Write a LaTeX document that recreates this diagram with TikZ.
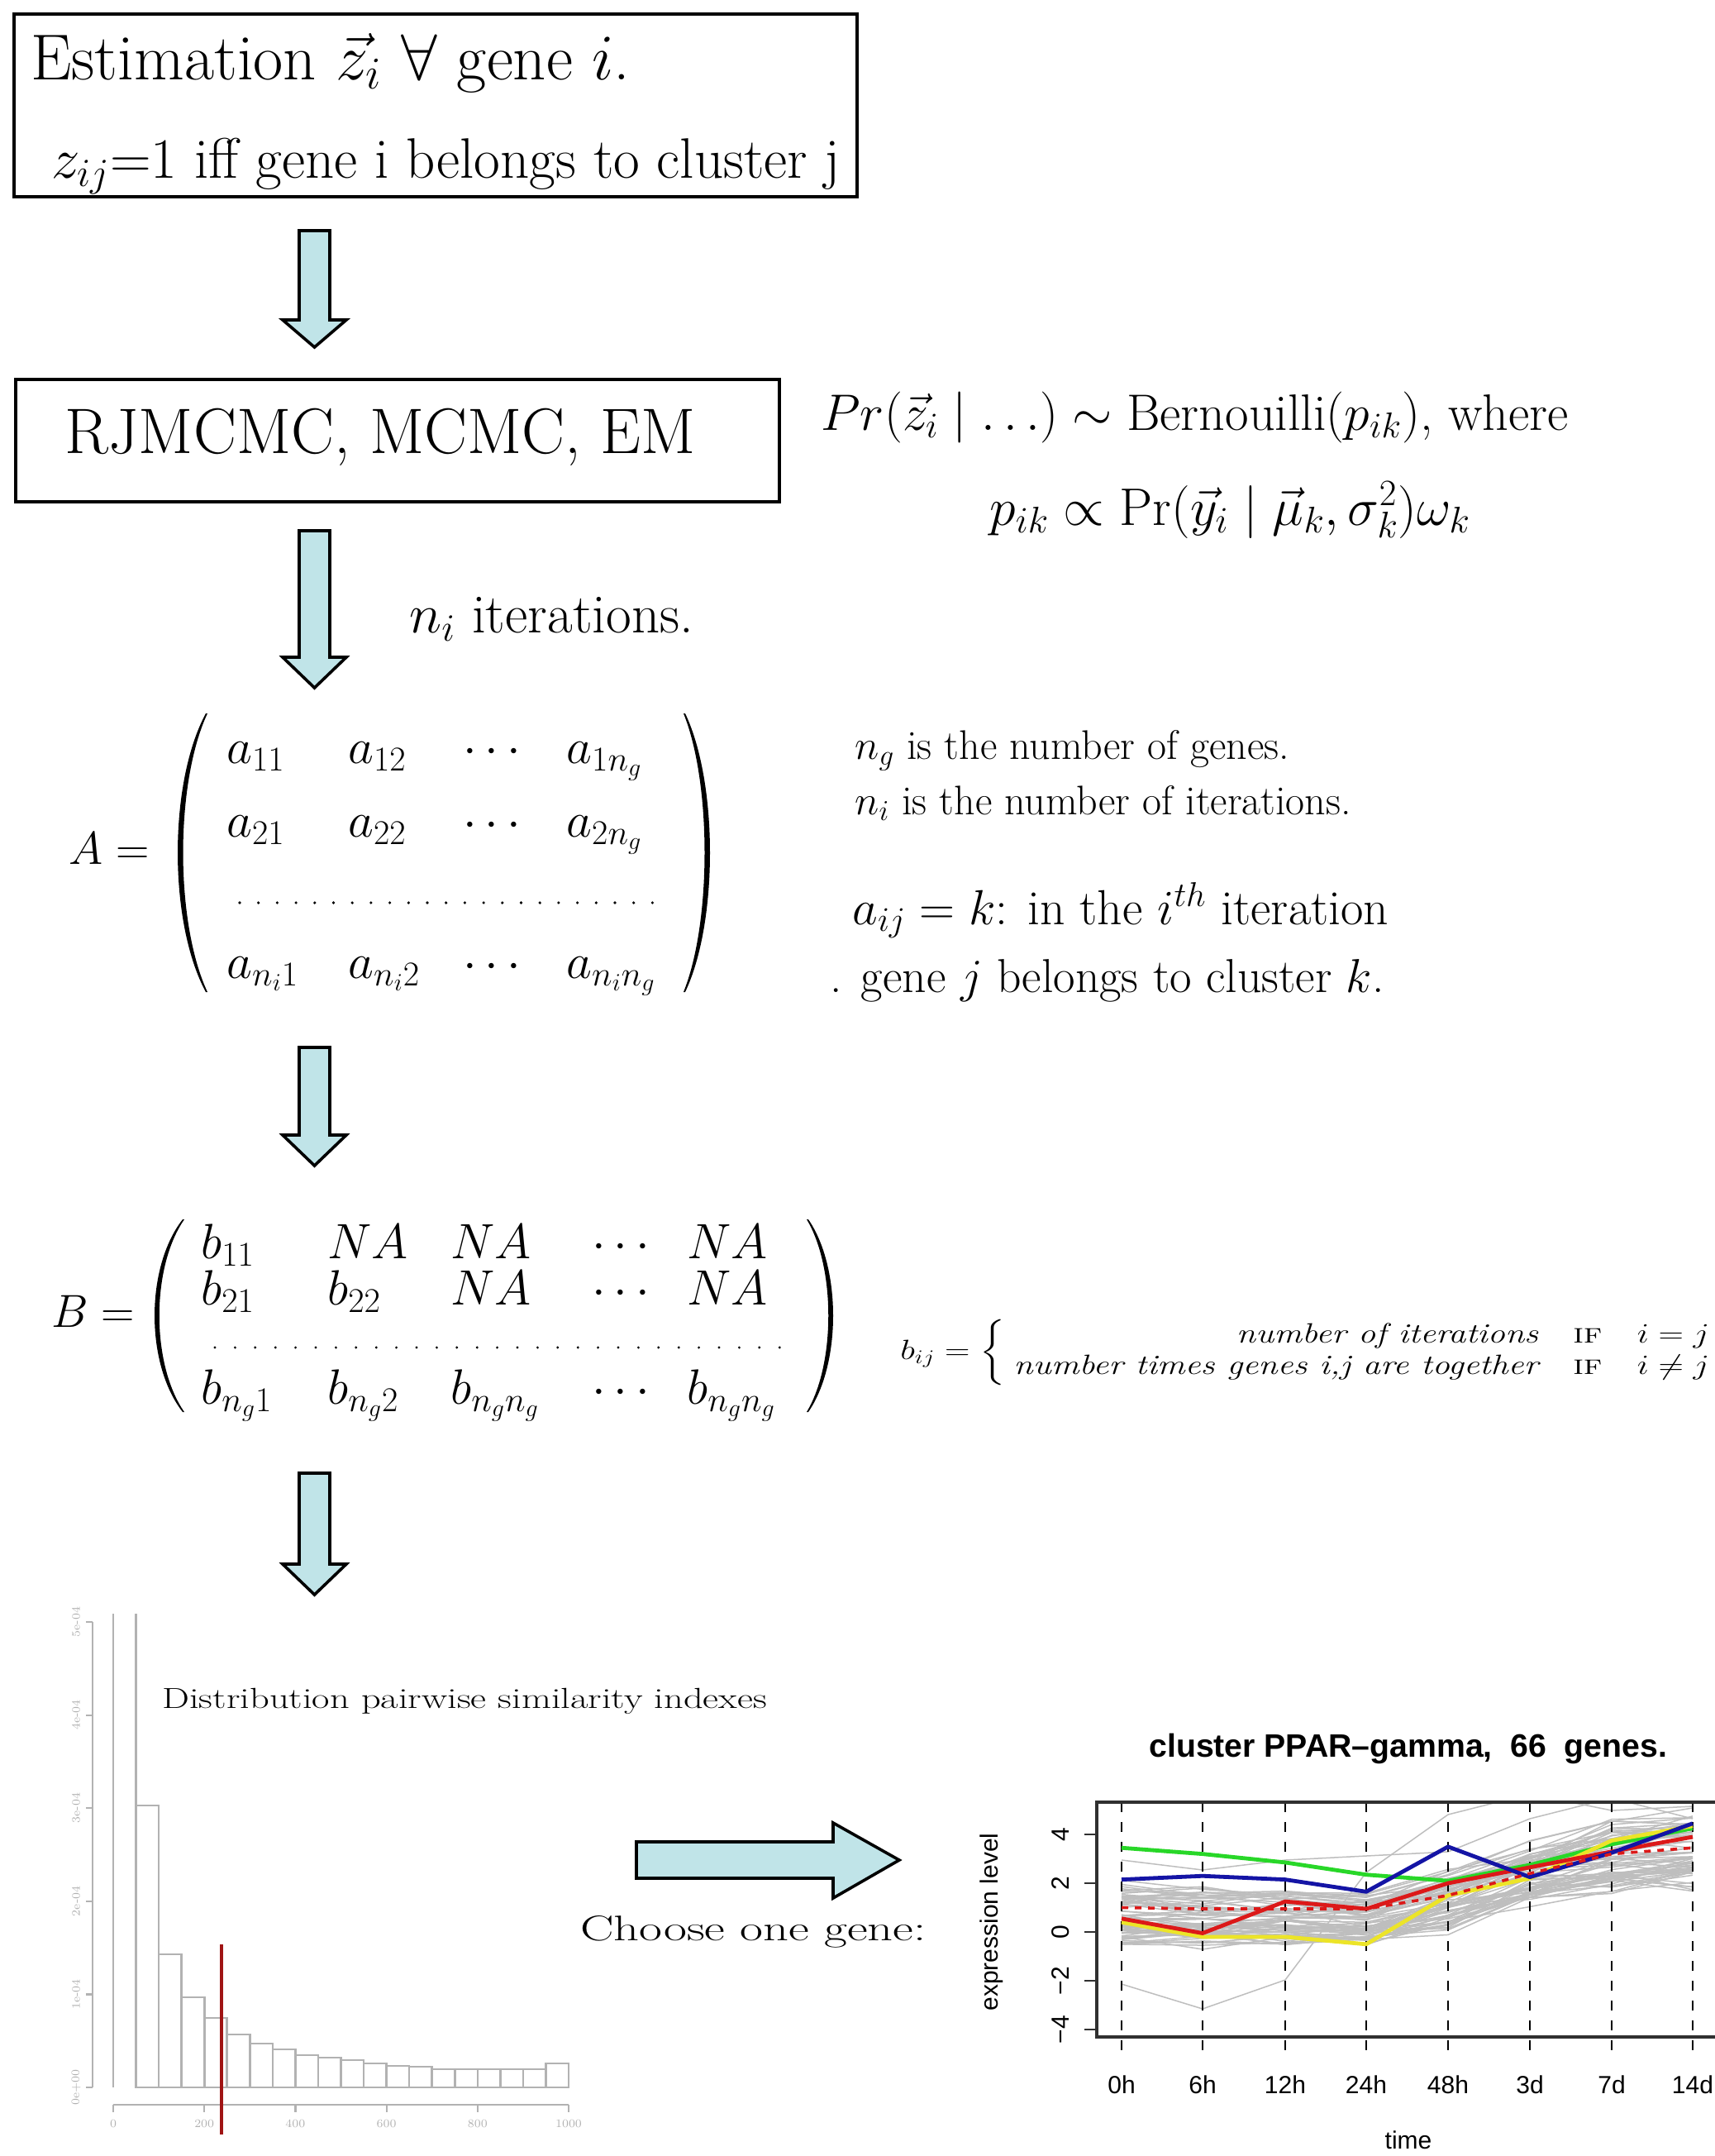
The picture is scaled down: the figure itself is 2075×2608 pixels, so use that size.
\RequirePackage{fix-cm}
\documentclass[tikz,border=0pt]{standalone}
\usepackage{amsmath}
\usepackage{fontspec}
\setsansfont{Liberation Sans}
\definecolor{arrowfill}{RGB}{192,228,232}
\definecolor{hgray}{RGB}{178,178,178}
\definecolor{pgray}{RGB}{190,190,190}
\definecolor{pgreen}{RGB}{40,215,40}
\definecolor{pblue}{RGB}{20,20,165}
\definecolor{pred}{RGB}{220,25,25}
\definecolor{pyellow}{RGB}{236,228,40}
\definecolor{redline}{RGB}{160,20,20}
\definecolor{axdark}{RGB}{48,48,48}
\begin{document}
\begin{tikzpicture}[x=0.5pt,y=-0.5pt,
  box/.style={draw,line width=1.8pt,inner sep=0pt,anchor=north west},
  blk/.style={draw,line width=1.8pt,fill=arrowfill,line join=miter},
  txt/.style={inner sep=0pt,anchor=base west},
  hbar/.style={draw=hgray,line width=1.3pt},
  hax/.style={draw=hgray,line width=1.1pt},
  htick/.style={inner sep=0pt,font=\fontsize{7}{8}\selectfont,text=hgray},
  gline/.style={draw=pgray,line width=0.75pt},
  cline/.style={line width=2.4pt,line join=round},
  vdash/.style={draw=black,line width=1.3pt,dash pattern=on 6pt off 6pt},
  plab/.style={inner sep=0pt,font=\sffamily\fontsize{15}{17}\selectfont},
  paren/.style={fill=black}]
\useasboundingbox (0,0) rectangle (2075,2608);

% ---------- box 1 ----------
\node[box,minimum width=510pt,minimum height=110.5pt] (box1) at (15,15) {};
\node[txt,font=\fontsize{39.3}{43}\selectfont] (est) at (37,96) {Estimation $\vec{z}_i$ $\forall$ gene $i$.};
\node[txt,font=\fontsize{34.5}{38}\selectfont] (zij) at (62,215) {$z_{ij}$=1 iff gene i belongs to cluster j};

% arrow 1
\draw[blk] (362,279) -- (399,279) -- (399,387) -- (419,387) -- (380.5,420) -- (342,387) -- (362,387) -- cycle;

% ---------- box 2 ----------
\node[box,minimum width=462pt,minimum height=74pt] (box2) at (17,457) {};
\node[txt,font=\fontsize{38.9}{42}\selectfont] (rj) at (78,548) {RJMCMC, MCMC, EM};

\node[txt,font=\fontsize{31}{35}\selectfont] (pr1) at (993,520) {$Pr(\vec{z}_i \mid \ldots) \sim \mathrm{Bernouilli}(p_{ik})$, where};
\node[txt,font=\fontsize{32}{36}\selectfont] (pr2) at (1197,635) {$p_{ik} \propto \Pr(\vec{y}_i \mid \vec{\mu}_k, \sigma^2_k)\omega_k$};

% arrow 2
\draw[blk] (362,642) -- (399,642) -- (399,795) -- (419,795) -- (380.5,832) -- (342,795) -- (362,795) -- cycle;
\node[txt,font=\fontsize{33.4}{37}\selectfont] (iter) at (495,765) {$n_i$ iterations.};

% ---------- matrix A ----------
\node[txt,font=\fontsize{28}{32}\selectfont] (Aeq) at (83,1045) {$A =$};
\fill[paren] (249,863) .. controls (203.7,947) and (203.7,1116) .. (249,1200) -- (251,1200) .. controls (211.7,1116) and (211.7,947) .. (251,863) -- cycle;
\fill[paren] (829,863) .. controls (869,947) and (869,1116) .. (829,1200) -- (827,1200) .. controls (861,1116) and (861,947) .. (827,863) -- cycle;
\begin{scope}[font=\fontsize{30}{33}\selectfont]
\node[txt] (a11) at (274,923) {$a_{11}$};
\node[txt] (a12) at (421,923) {$a_{12}$};
\node[txt] (a1c) at (560,923) {$\cdots$};
\node[txt] (a1n) at (685,923) {$a_{1n_g}$};
\node[txt] (a21) at (274,1012) {$a_{21}$};
\node[txt] (a22) at (421,1012) {$a_{22}$};
\node[txt] (a2c) at (560,1012) {$\cdots$};
\node[txt] (a2n) at (685,1012) {$a_{2n_g}$};
\node[txt] (an1) at (274,1183) {$a_{n_i1}$};
\node[txt] (an2) at (421,1183) {$a_{n_i2}$};
\node[txt] (anc) at (560,1183) {$\cdots$};
\node[txt] (ann) at (685,1183) {$a_{n_in_g}$};
\end{scope}
\foreach \k in {0,...,22} \fill ({290+22.7*\k},1092) circle (1.8);

\begin{scope}[font=\fontsize{25}{29}\selectfont]
\node[txt] (ng) at (1034,918) {$n_g$ is the number of genes.};
\node[txt] (ni) at (1034,985) {$n_i$ is the number of iterations.};
\end{scope}
\node[txt,font=\fontsize{29.8}{33}\selectfont] (aij) at (1031,1118) {$a_{ij}=k$: in the $i^{th}$ iteration};
\node[txt,font=\fontsize{28.8}{32}\selectfont] (genej) at (1004,1200) {. gene $j$ belongs to cluster $k$.};

% arrow 3
\draw[blk] (362,1267) -- (399,1267) -- (399,1373) -- (419,1373) -- (380.5,1410) -- (342,1373) -- (362,1373) -- cycle;

% ---------- matrix B ----------
\node[txt,font=\fontsize{28}{32}\selectfont] (Beq) at (62,1605) {$B =$};
\fill[paren] (221,1475) .. controls (175.7,1533) and (175.7,1650) .. (221,1708) -- (223,1708) .. controls (182.7,1650) and (182.7,1533) .. (223,1475) -- cycle;
\fill[paren] (978,1475) .. controls (1018,1533) and (1018,1650) .. (978,1708) -- (976,1708) .. controls (1011,1650) and (1011,1533) .. (976,1475) -- cycle;
\begin{scope}[font=\fontsize{30}{33}\selectfont]
\node[txt] (b11) at (243,1522) {$b_{11}$};
\node[txt] (b12) at (396,1522) {$NA$};
\node[txt] (b13) at (545,1522) {$NA$};
\node[txt] (b1c) at (716,1522) {$\cdots$};
\node[txt] (b1n) at (831,1522) {$NA$};
\node[txt] (b21) at (243,1578) {$b_{21}$};
\node[txt] (b22) at (396,1578) {$b_{22}$};
\node[txt] (b23) at (545,1578) {$NA$};
\node[txt] (b2c) at (716,1578) {$\cdots$};
\node[txt] (b2n) at (831,1578) {$NA$};
\node[txt] (bn1) at (243,1698) {$b_{n_g1}$};
\node[txt] (bn2) at (396,1698) {$b_{n_g2}$};
\node[txt] (bn3) at (545,1698) {$b_{n_gn_g}$};
\node[txt] (bnc) at (716,1698) {$\cdots$};
\node[txt] (bnn) at (831,1698) {$b_{n_gn_g}$};
\end{scope}
\foreach \k in {0,...,28} \fill ({260+24.4*\k},1630) circle (1.6);

\node[inner sep=0pt,anchor=west,font=\fontsize{21.1}{24}\selectfont] (bij) at (1089,1636)
  {\scalebox{1}[0.8]{$b_{ij} = \left\{\begin{array}{r@{\quad}c@{\quad}c}
   \textit{number of iterations} & \textsc{if} & i=j\\
   \textit{number times genes i,j are together} & \textsc{if} & i\neq j
   \end{array}\right.$}};

% arrow 4
\draw[blk] (362,1782) -- (399,1782) -- (399,1892) -- (419,1892) -- (380.5,1929) -- (342,1892) -- (362,1892) -- cycle;

% ---------- histogram ----------
\draw[hbar] (137,2525) -- (137,1952);
\draw[hbar] (164.55,2525) -- (164.55,1952);
\foreach \i/\t in {2/2184,3/2364,4/2416,5/2441,6/2461,7/2472,8/2479,9/2486,10/2489,11/2492,12/2496,13/2499,14/2500,15/2503,16/2503,17/2503,18/2503,19/2503,20/2496}
  \draw[hbar] ({137+27.55*(\i-1)},2525) rectangle ({137+27.55*\i},\t);
\draw[hax] (112,1962) -- (112,2525);
\foreach \k/\l in {0/0e+00,1/1e-04,2/2e-04,3/3e-04,4/4e-04,5/5e-04}{
  \draw[hax] (112,{2525-112.6*\k}) -- (104,{2525-112.6*\k});
  \node[htick,rotate=90] at (92,{2525-112.6*\k}) {\l};
}
\draw[hax] (137,2546) -- (688,2546);
\foreach \k/\l in {0/0,1/200,2/400,3/600,4/800,5/1000}{
  \draw[hax] ({137+110.2*\k},2546) -- ({137+110.2*\k},2555);
  \node[htick] at ({137+110.2*\k},2569) {\l};
}
\draw[redline,line width=2pt] (268,2352) -- (268,2582);
\node[txt,font=\fontsize{17.5}{20}\selectfont] (htitle) at (196,2066) {\scalebox{1.33}[1]{Distribution pairwise similarity indexes}};

% ---------- horizontal arrow ----------
\draw[blk] (770,2228) -- (1008,2228) -- (1008,2205) -- (1088,2250) -- (1008,2296) -- (1008,2272) -- (770,2272) -- cycle;
\node[txt,font=\fontsize{21.5}{25}\selectfont] (choose) at (702,2347) {\scalebox{1.41}[1]{Choose one gene:}};

% ---------- cluster plot ----------
\node[txt,font=\sffamily\bfseries\fontsize{19.6}{22}\selectfont] (ptitle) at (1390,2125) {cluster PPAR\textendash gamma,\ \ 66\ \ genes.};
\begin{scope}
\clip (1327,2180) rectangle (2075,2464);
\pgfmathsetseed{12}
\foreach \k in {1,...,66}{
 \pgfmathsetmacro\o{rand}
 \pgfmathsetmacro\va{0.7+1.2*\o+0.35*rand}
 \pgfmathsetmacro\vb{0.6+1.1*\o+0.35*rand}
 \pgfmathsetmacro\vc{0.6+1.1*\o+0.35*rand}
 \pgfmathsetmacro\vd{0.5+1.0*\o+0.35*rand}
 \pgfmathsetmacro\ve{1.3+1.1*\o+0.45*rand}
 \pgfmathsetmacro\vf{2.3+1.1*\o+0.45*rand}
 \pgfmathsetmacro\vg{3.1+1.3*\o+0.45*rand}
 \pgfmathsetmacro\vh{3.3+1.4*\o+0.45*rand}
 \draw[gline] (1357,{2337-29.5*\va}) -- (1455,{2337-29.5*\vb}) -- (1555,{2337-29.5*\vc}) -- (1653,{2337-29.5*\vd}) -- (1752,{2337-29.5*\ve}) -- (1851,{2337-29.5*\vf}) -- (1950,{2337-29.5*\vg}) -- (2048,{2337-29.5*\vh});
}
\draw[gline] (1357,2400) -- (1455,2430) -- (1555,2395) -- (1653,2265) -- (1752,2195) -- (1851,2170) -- (1950,2190) -- (2048,2185);
\draw[gline] (1357,2250) -- (1455,2262) -- (1555,2250) -- (1653,2245) -- (1752,2240) -- (1851,2200) -- (1950,2175) -- (2048,2200);
\end{scope}
\foreach \x in {1357,1455,1555,1653,1752,1851,1950,2048} \draw[vdash] (\x,2180) -- (\x,2483);
\begin{scope}
\clip (1327,2180) rectangle (2075,2464);
\draw[cline,pgreen] (1357,2235.2) -- (1455,2242.6) -- (1555,2252.9) -- (1653,2267.7) -- (1752,2275.1) -- (1851,2255.9) -- (1950,2230.8) -- (2048,2211.6);
\draw[cline,pyellow] (1357,2325.2) -- (1455,2342.9) -- (1555,2342.9) -- (1653,2351.8) -- (1752,2292.8) -- (1851,2272.1) -- (1950,2226.4) -- (2048,2208.7);
\draw[cline,pred] (1357,2320.8) -- (1455,2338.5) -- (1555,2300.1) -- (1653,2309.0) -- (1752,2278.0) -- (1851,2258.8) -- (1950,2239.7) -- (2048,2222.0);
\draw[cline,pblue] (1357,2273.6) -- (1455,2269.2) -- (1555,2273.6) -- (1653,2288.3) -- (1752,2233.8) -- (1851,2270.6) -- (1950,2241.1) -- (2048,2205.7);
\draw[pred,line width=1.8pt,dash pattern=on 4pt off 4pt] (1357,2307.5) -- (1455,2309.0) -- (1555,2309.0) -- (1653,2309.0) -- (1752,2292.8) -- (1851,2266.2) -- (1950,2242.6) -- (2048,2235.2);
\end{scope}
\draw[axdark,line width=2.2pt] (2075,2180) -- (1327,2180) -- (1327,2464) -- (2075,2464);
\foreach \v/\l in {4/4,2/2,0/0,-2/−2,-4/−4}{
  \draw[axdark,line width=1.3pt] (1327,{2337-29.5*\v}) -- (1312,{2337-29.5*\v});
  \node[plab,rotate=90] at (1283,{2337-29.5*\v}) {\l};
}
\foreach \x/\l in {1357/0h,1455/6h,1555/12h,1653/24h,1752/48h,1851/3d,1950/7d,2048/14d}
  \node[plab] at (\x,2522) {\l};
\node[plab] (timel) at (1704,2589) {time};
\node[plab,rotate=90] (expl) at (1200,2325) {expression level};
\end{tikzpicture}
\end{document}
